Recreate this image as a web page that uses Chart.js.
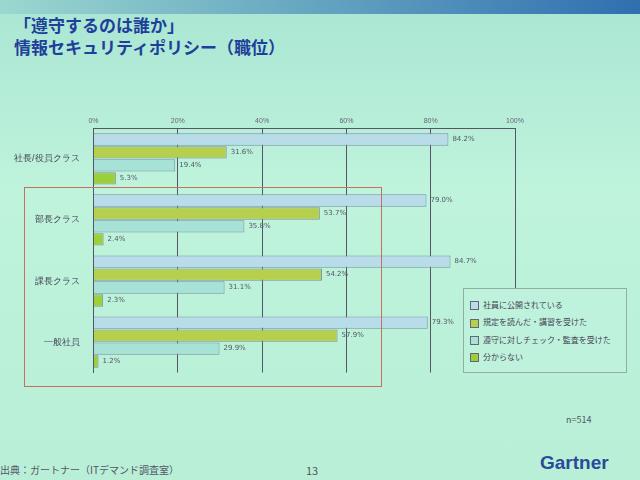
<!DOCTYPE html>
<html><head><meta charset="utf-8">
<script src="https://cdn.jsdelivr.net/npm/chart.js@4"></script>
<style>
body{margin:0;width:640px;height:480px;overflow:hidden;background:linear-gradient(180deg,#a9e6d3 0%,#bff3dc 40%,#b8efd6 100%);font-family:"Noto Sans CJK JP",sans-serif;position:relative}
#band{position:absolute;left:0;top:0;width:640px;height:14px;background:linear-gradient(90deg,#9ad8d0,#2f6fb0)}
#title{position:absolute;left:14px;top:14px;color:#1f3f9a;font-weight:bold;font-size:17px;line-height:22px}
#wrap{position:absolute;left:0;top:112px;width:530px;height:272px}
#legend{position:absolute;left:463px;top:288px;width:150px;border:1px solid #8fb0a0;padding:4px 6px;font-size:8px;color:#445;background:#bff2dc}
#legend div{margin:6px 0}
#legend span{display:inline-block;width:7px;height:7px;border:1px solid #667;margin-right:4px;vertical-align:middle}
#red{position:absolute;left:24px;top:187px;width:356px;height:198px;border:1px solid #c87060}
.t{position:absolute;font-size:9px;color:#556}
</style></head><body>
<div id="band"></div>
<div id="title">「遵守するのは誰か」<br>情報セキュリティポリシー（職位）</div>
<div id="wrap"><canvas id="c"></canvas></div>
<div id="red"></div>
<div id="legend"></div>
<div class="t" style="left:566px;top:413px">n=514</div>
<div class="t" style="left:0;top:462px;font-size:10px">出典：ガートナー（ITデマンド調査室）</div>
<div class="t" style="left:306px;top:462px;font-size:11px">13</div>
<div class="t" style="left:540px;top:452px;font-size:19px;font-weight:bold;color:#2a4a9a;font-family:'Liberation Sans'">Gartner</div>
<script>
const categories = ['社長/役員クラス', '部長クラス', '課長クラス', '一般社員'];
const seriesNames = ['社員に公開されている', '規定を読んだ・講習を受けた', '遵守に対しチェック・監査を受けた', '分からない'];
const published = [84.2, 79.0, 84.7, 79.3];
const readRules = [31.6, 53.7, 54.2, 57.9];
const audited = [19.4, 35.8, 31.1, 29.9];
const unknown = [5.3, 2.4, 2.3, 1.2];
const colors = ['#b9dcea', '#b6cf4c', '#a6e2d6', '#9ccf3a'];

const values = [published, readRules, audited, unknown];
const lg = document.getElementById('legend');
seriesNames.forEach((n, i) => {
  lg.innerHTML += '<div><span style="background:' + colors[i] + '"></span>' + n + '</div>';
});

const labelPlugin = {
  id: 'vals',
  afterDatasetsDraw(chart) {
    const ctx = chart.ctx;
    ctx.save();
    ctx.font = '7px "DejaVu Sans"';
    ctx.fillStyle = '#556';
    ctx.textBaseline = 'middle';
    chart.data.datasets.forEach((ds, i) => {
      chart.getDatasetMeta(i).data.forEach((bar, j) => {
        ctx.fillText(ds.data[j].toFixed(1) + '%', bar.x + 4, bar.y);
      });
    });
    ctx.restore();
  }
};

new Chart(document.getElementById('c'), {
  type: 'bar',
  data: {
    labels: categories,
    datasets: seriesNames.map((n, i) => ({
      label: n, data: values[i], backgroundColor: colors[i],
      borderColor: '#7890a0', borderWidth: 1,
      categoryPercentage: 0.85, barPercentage: 0.95
    }))
  },
  options: {
    indexAxis: 'y', responsive: true, maintainAspectRatio: false, animation: false,
    layout: { padding: { left: 8, top: 2, right: 15 } },
    plugins: { legend: { display: false }, tooltip: { enabled: false } },
    scales: {
      x: {
        position: 'top', min: 0, max: 100,
        ticks: { stepSize: 20, callback: v => v + '%', color: '#667', font: { size: 7 } },
        grid: { color: '#556', drawTicks: false }, border: { color: '#556' }
      },
      y: {
        ticks: { color: '#445', font: { size: 9 }, padding: 6 },
        grid: { display: false }, border: { color: '#556' }
      }
    }
  },
  plugins: [labelPlugin]
});
</script>
</body></html>
